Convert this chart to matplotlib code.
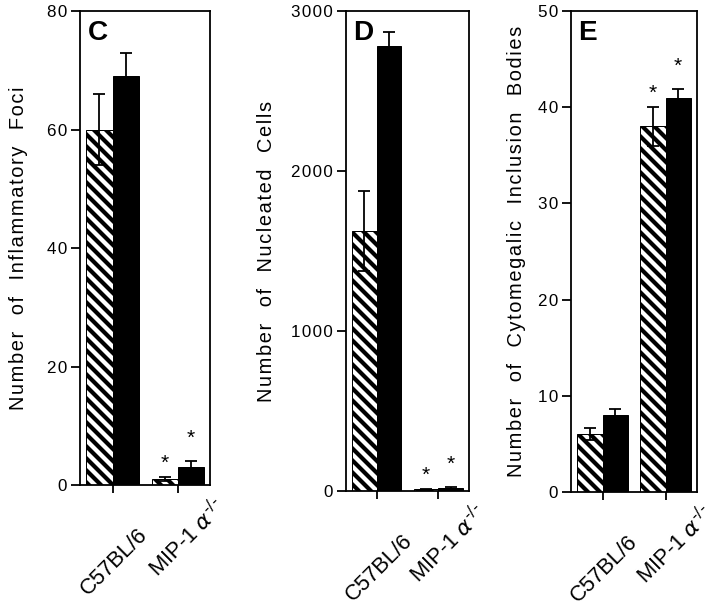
import numpy as np
import matplotlib
matplotlib.use('Agg')
import matplotlib.pyplot as plt
import matplotlib.transforms as mtransforms
from matplotlib.ticker import FuncFormatter

plt.rcParams['font.family'] = ['Liberation Sans', 'DejaVu Sans']
plt.rcParams['mathtext.fontset'] = 'dejavusans'
plt.rcParams['hatch.linewidth'] = 4.2
plt.rcParams['axes.linewidth'] = 1.8

groups = ['C57BL/6', 'MIP-1 $\\alpha^{\\text{-/-}}$']

# panel C - inflammatory foci
foci_hatch = [60, 1]
foci_hatch_err = [6, 0.3]
foci_black = [69, 3]
foci_black_err = [4, 1]

# panel D - nucleated cells
cells_hatch = [1625, 10]
cells_hatch_err = [250, 5]
cells_black = [2780, 20]
cells_black_err = [90, 5]

# panel E - cytomegalic inclusion bodies
cib_hatch = [6, 38]
cib_hatch_err = [0.6, 2]
cib_black = [8, 41]
cib_black_err = [0.6, 0.9]

signif = [False, True]

DPI = 72
fig = plt.figure(figsize=(720 / DPI, 613 / DPI), dpi=DPI)


def tracked(s):
    # loose letter spacing like the original typesetting
    return '\u200a'.join(s).replace('\u200a \u200a', '   ')


panels = [
    dict(rect=[0.1111, 0.2088, 0.1806, 0.7732], letter='C',
         ylabel='Number of Inflammatory Foci', ylim=80, yticks=[0, 20, 40, 60, 80],
         h=foci_hatch, he=foci_hatch_err, b=foci_black, be=foci_black_err, labx=-0.40),
    dict(rect=[0.4806, 0.1990, 0.1708, 0.7830], letter='D',
         ylabel='Number of Nucleated Cells', ylim=3000, yticks=[0, 1000, 2000, 3000],
         h=cells_hatch, he=cells_hatch_err, b=cells_black, be=cells_black_err, labx=-0.57),
    dict(rect=[0.7931, 0.1974, 0.1750, 0.7847], letter='E',
         ylabel='Number of Cytomegalic Inclusion Bodies', ylim=50, yticks=[0, 10, 20, 30, 40, 50],
         h=cib_hatch, he=cib_hatch_err, b=cib_black, be=cib_black_err, labx=-0.36),
]

spaced = FuncFormatter(lambda v, pos: '\u200a'.join(str(int(v))))
# label centre offsets (px) below each group tick
lab_dx = [2, 10]
lab_dy = [-77, -53]

x = np.arange(len(groups))
for p in panels:
    ax = fig.add_axes(p['rect'])
    ax.bar(x - 0.2, p['h'], 0.4, color='white', edgecolor='black', hatch='\\\\', linewidth=1)
    ax.bar(x + 0.2, p['b'], 0.4, color='black', edgecolor='black', linewidth=1)
    ax.errorbar(x - 0.2, p['h'], yerr=p['he'], fmt='none', ecolor='black',
                elinewidth=1.8, capsize=6, capthick=1.8)
    ax.errorbar(x + 0.2, p['b'], yerr=p['be'], fmt='none', ecolor='black',
                elinewidth=1.8, capsize=6, capthick=1.8)
    for i, s in enumerate(signif):
        if s:
            ax.annotate('*', (x[i] - 0.2, p['h'][i] + p['he'][i]), xytext=(0, 4),
                        textcoords='offset points', ha='center', va='bottom', fontsize=21)
            ax.annotate('*', (x[i] + 0.2, p['b'][i] + p['be'][i]), xytext=(0, 13),
                        textcoords='offset points', ha='center', va='bottom', fontsize=21)
    ax.set_xlim(-0.5, 1.5)
    ax.set_ylim(0, p['ylim'])
    ax.set_yticks(p['yticks'])
    ax.yaxis.set_major_formatter(spaced)
    ax.set_xticks(x)
    ax.set_xticklabels([])
    ax.tick_params(axis='x', length=8, width=1.8)
    ax.tick_params(axis='y', length=9, width=1.8, pad=4, labelsize=17)
    for i, g in enumerate(groups):
        tr = ax.get_xaxis_transform() + mtransforms.ScaledTranslation(
            lab_dx[i] / DPI, lab_dy[i] / DPI, fig.dpi_scale_trans)
        ax.text(x[i], 0, g, transform=tr, rotation=45, ha='center', va='center',
                fontsize=22, clip_on=False)
    ax.set_ylabel(tracked(p['ylabel']), fontsize=20)
    ax.yaxis.set_label_coords(p['labx'], 0.5)
    ax.text(0.06, 0.981, p['letter'], transform=ax.transAxes, fontsize=28,
            fontweight='bold', ha='left', va='top')

fig.savefig('out.png', dpi=DPI)
